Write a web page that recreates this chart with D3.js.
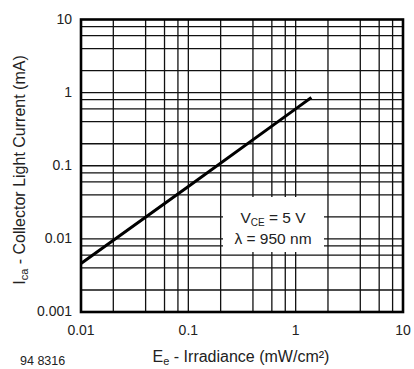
<!DOCTYPE html>
<html>
<head>
<meta charset="utf-8">
<script src="https://cdn.jsdelivr.net/npm/d3@7"></script>
<style>
  html, body { margin: 0; padding: 0; background: #fff; }
  svg { display: block; }
  text { font-family: "Liberation Sans", Arial, sans-serif; fill: #222; }
</style>
</head>
<body>
<svg id="chart" width="414" height="369"></svg>
<script>
// Collector light current vs. irradiance (log-log)
const irradiance = [0.01, 0.1, 1, 1.4];          // mW/cm²
const collectorCurrent = [0.0046, 0.052, 0.6, 0.86]; // mA

const xTickValues = [0.01, 0.1, 1, 10];
const xTickLabels = ["0.01", "0.1", "1", "10"];
const yTickValues = [0.001, 0.01, 0.1, 1, 10];
const yTickLabels = ["0.001", "0.01", "0.1", "1", "10"];
const gridMultipliers = [1, 2, 4, 6, 8];

const svg = d3.select("#chart");
const plot = { left: 81, right: 403, top: 19.5, bottom: 312 };

const x = d3.scaleLog().domain([0.01, 10]).range([plot.left, plot.right]);
const y = d3.scaleLog().domain([0.001, 10]).range([plot.bottom, plot.top]);

function gridValues(lo, hi) {
  const out = [];
  for (let d = lo; d < hi * 0.999; d *= 10) {
    gridMultipliers.forEach(m => { if (m > 1) out.push(d * m); });
  }
  return out;
}

const g = svg.append("g");

// vertical grid lines (decades plus 2, 4, 6, 8)
g.append("g").selectAll("line")
  .data(gridValues(0.01, 10).concat([0.1, 1]))
  .join("line")
  .attr("x1", d => x(d)).attr("x2", d => x(d))
  .attr("y1", plot.top).attr("y2", plot.bottom)
  .attr("stroke", "#111").attr("stroke-width", 1.3);

// horizontal grid lines
g.append("g").selectAll("line")
  .data(gridValues(0.001, 10).concat([0.01, 0.1, 1]))
  .join("line")
  .attr("x1", plot.left).attr("x2", plot.right)
  .attr("y1", d => y(d)).attr("y2", d => y(d))
  .attr("stroke", "#111").attr("stroke-width", 1.3);

// characteristic curve
const line = d3.line().x(d => x(d[0])).y(d => y(d[1]));
g.append("path")
  .datum(irradiance.map((v, i) => [v, collectorCurrent[i]]))
  .attr("d", line)
  .attr("fill", "none")
  .attr("stroke", "#000")
  .attr("stroke-width", 3);

// condition label with white backing
const note = g.append("g");
note.append("rect")
  .attr("x", 223).attr("y", 197).attr("width", 101).attr("height", 55)
  .attr("fill", "#fff");
const t1 = note.append("text")
  .attr("x", 273).attr("y", 223).attr("text-anchor", "middle")
  .style("font-size", "15.5px");
t1.append("tspan").text("V");
t1.append("tspan").text("CE").style("font-size", "10px").attr("dy", 3);
t1.append("tspan").text(" = 5 V").attr("dy", -3);
note.append("text")
  .attr("x", 273).attr("y", 244).attr("text-anchor", "middle")
  .style("font-size", "15.5px")
  .text("λ = 950 nm");

// plot frame
g.append("rect")
  .attr("x", plot.left).attr("y", plot.top)
  .attr("width", plot.right - plot.left).attr("height", plot.bottom - plot.top)
  .attr("fill", "none").attr("stroke", "#000").attr("stroke-width", 2.6);

// tick labels
svg.append("g").selectAll("text")
  .data(xTickValues)
  .join("text")
  .attr("x", d => x(d)).attr("y", 335)
  .attr("text-anchor", "middle")
  .style("font-size", "14px")
  .text((d, i) => xTickLabels[i]);

svg.append("g").selectAll("text")
  .data(yTickValues)
  .join("text")
  .attr("x", 72).attr("y", d => y(d) + 4)
  .attr("text-anchor", "end")
  .style("font-size", "14px")
  .text((d, i) => yTickLabels[i]);

// axis titles
const xt = svg.append("text")
  .attr("x", 241).attr("y", 361.5).attr("text-anchor", "middle")
  .style("font-size", "16px");
xt.append("tspan").text("E");
xt.append("tspan").text("e").style("font-size", "11px").attr("dy", 3);
xt.append("tspan").text(" - Irradiance (mW/cm²)").attr("dy", -3);

const yt = svg.append("text")
  .attr("transform", "translate(25,170) rotate(-90)")
  .attr("text-anchor", "middle")
  .style("font-size", "16px");
yt.append("tspan").text("I");
yt.append("tspan").text("ca").style("font-size", "11px").attr("dy", 3);
yt.append("tspan").text(" - Collector Light Current (mA)").attr("dy", -3);

svg.append("text")
  .attr("x", 20).attr("y", 365)
  .style("font-size", "12.5px")
  .text("94 8316");
</script>
</body>
</html>
